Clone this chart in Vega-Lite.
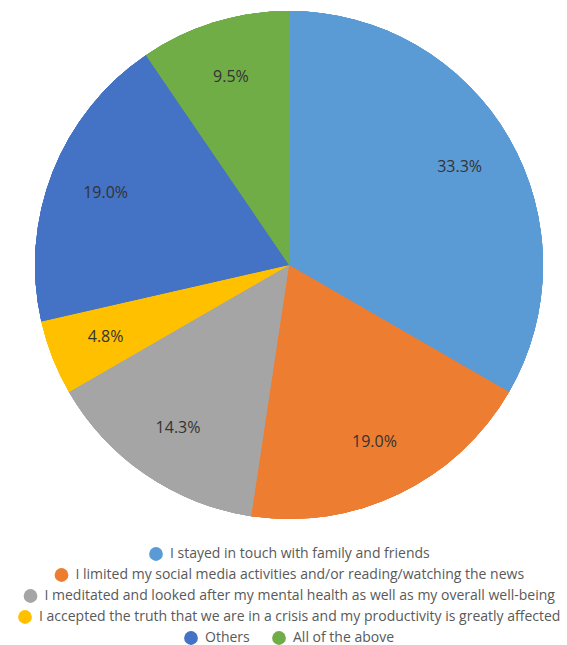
{
  "$schema": "https://vega.github.io/schema/vega-lite/v6.json",
  "width": 568,
  "height": 530,
  "padding": {"left": 5, "top": 0, "right": 0, "bottom": 0},
  "background": "white",
  "data": {
    "values": [
      {"category": "I stayed in touch with family and friends", "count": 7, "order": 1, "label": "33.3%"},
      {"category": "I limited my social media activities and/or reading/watching the news", "count": 4, "order": 2, "label": "19.0%"},
      {"category": "I meditated and looked after my mental health as well as my overall well-being", "count": 3, "order": 3, "label": "14.3%"},
      {"category": "I accepted the truth that we are in a crisis and my productivity is greatly affected", "count": 1, "order": 4, "label": "4.8%"},
      {"category": "Others", "count": 4, "order": 5, "label": "19.0%"},
      {"category": "All of the above", "count": 2, "order": 6, "label": "9.5%"}
    ]
  },
  "layer": [
    {
      "mark": {"type": "arc", "outerRadius": 254},
      "encoding": {
        "theta": {"field": "count", "type": "quantitative", "stack": true},
        "order": {"field": "order", "type": "quantitative"},
        "color": {"field": "category", "type": "nominal",
          "scale": {"domain": ["I stayed in touch with family and friends", "I limited my social media activities and/or reading/watching the news", "I meditated and looked after my mental health as well as my overall well-being", "I accepted the truth that we are in a crisis and my productivity is greatly affected", "Others", "All of the above"],
                    "range": ["#5B9BD5", "#ED7D31", "#A5A5A5", "#FFC000", "#4472C4", "#70AD47"]},
          "legend": {"values": ["I stayed in touch with family and friends"]}}
      }
    },
    {
      "mark": {"type": "arc", "outerRadius": 254},
      "encoding": {
        "theta": {"field": "count", "type": "quantitative", "stack": true},
        "order": {"field": "order", "type": "quantitative"},
        "color": {"field": "category", "type": "nominal",
          "scale": {"domain": ["I stayed in touch with family and friends", "I limited my social media activities and/or reading/watching the news", "I meditated and looked after my mental health as well as my overall well-being", "I accepted the truth that we are in a crisis and my productivity is greatly affected", "Others", "All of the above"],
                    "range": ["#5B9BD5", "#ED7D31", "#A5A5A5", "#FFC000", "#4472C4", "#70AD47"]},
          "legend": {"values": ["I limited my social media activities and/or reading/watching the news"]}}
      }
    },
    {
      "mark": {"type": "arc", "outerRadius": 254},
      "encoding": {
        "theta": {"field": "count", "type": "quantitative", "stack": true},
        "order": {"field": "order", "type": "quantitative"},
        "color": {"field": "category", "type": "nominal",
          "scale": {"domain": ["I stayed in touch with family and friends", "I limited my social media activities and/or reading/watching the news", "I meditated and looked after my mental health as well as my overall well-being", "I accepted the truth that we are in a crisis and my productivity is greatly affected", "Others", "All of the above"],
                    "range": ["#5B9BD5", "#ED7D31", "#A5A5A5", "#FFC000", "#4472C4", "#70AD47"]},
          "legend": {"values": ["I meditated and looked after my mental health as well as my overall well-being"]}}
      }
    },
    {
      "mark": {"type": "arc", "outerRadius": 254},
      "encoding": {
        "theta": {"field": "count", "type": "quantitative", "stack": true},
        "order": {"field": "order", "type": "quantitative"},
        "color": {"field": "category", "type": "nominal",
          "scale": {"domain": ["I stayed in touch with family and friends", "I limited my social media activities and/or reading/watching the news", "I meditated and looked after my mental health as well as my overall well-being", "I accepted the truth that we are in a crisis and my productivity is greatly affected", "Others", "All of the above"],
                    "range": ["#5B9BD5", "#ED7D31", "#A5A5A5", "#FFC000", "#4472C4", "#70AD47"]},
          "legend": {"values": ["I accepted the truth that we are in a crisis and my productivity is greatly affected"]}}
      }
    },
    {
      "mark": {"type": "arc", "outerRadius": 254},
      "encoding": {
        "theta": {"field": "count", "type": "quantitative", "stack": true},
        "order": {"field": "order", "type": "quantitative"},
        "color": {"field": "category", "type": "nominal",
          "scale": {"domain": ["I stayed in touch with family and friends", "I limited my social media activities and/or reading/watching the news", "I meditated and looked after my mental health as well as my overall well-being", "I accepted the truth that we are in a crisis and my productivity is greatly affected", "Others", "All of the above"],
                    "range": ["#5B9BD5", "#ED7D31", "#A5A5A5", "#FFC000", "#4472C4", "#70AD47"]},
          "legend": {"values": ["Others", "All of the above"], "direction": "horizontal", "columnPadding": 22}}
      }
    },
    {
      "mark": {"type": "text", "radius": 197, "font": "Open Sans", "fontSize": 16, "color": "#333333"},
      "encoding": {
        "theta": {"field": "count", "type": "quantitative", "stack": true},
        "order": {"field": "order", "type": "quantitative"},
        "text": {"field": "label", "type": "nominal"}
      }
    }
  ],
  "resolve": {"scale": {"color": "independent"}},
  "config": {
    "view": {"stroke": null},
    "legend": {
      "orient": "bottom",
      "title": null,
      "symbolType": "circle",
      "symbolSize": 190,
      "symbolStrokeWidth": 0,
      "labelFont": "Open Sans",
      "labelFontSize": 14,
      "labelColor": "#595959",
      "labelLimit": 0,
      "labelOffset": 7,
      "offset": 17,
      "padding": 0,
      "layout": {"bottom": {"anchor": "middle", "direction": "vertical", "center": true, "margin": 7}}
    }
  }
}
